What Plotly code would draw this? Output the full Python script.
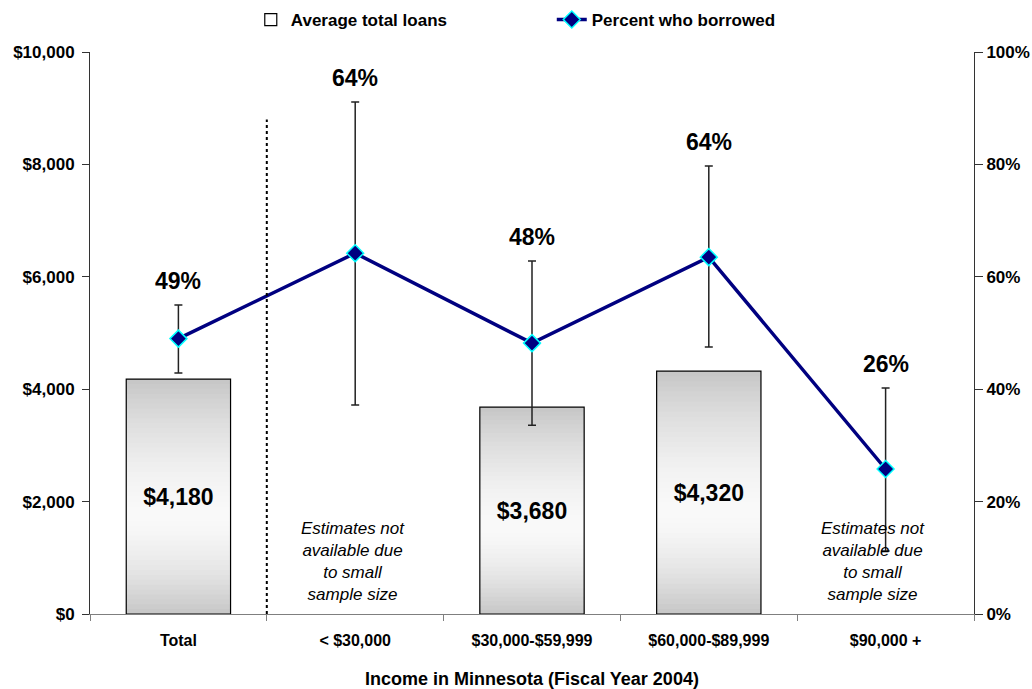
import plotly.graph_objects as go

# ---- data ----
categories = ["Total", "< $30,000", "$30,000-$59,999", "$60,000-$89,999", "$90,000 +"]
avg_loans = [4180, None, 3680, 4320, None]
pct_borrowed = [0.49, 0.642, 0.482, 0.635, 0.258]
pct_upper = [0.55, 0.911, 0.628, 0.797, 0.402]
pct_lower = [0.429, 0.372, 0.336, 0.475, 0.112]
pct_labels = ["49%", "64%", "48%", "64%", "26%"]
na_note = "Estimates not<br>available due<br>to small<br>sample size"
na_categories = ["< $30,000", "$90,000 +"]

FONT = "Arial, 'Liberation Sans', sans-serif"
BAR_W = 0.59

fig = go.Figure()

# gradient fill for bars: nested bars from full height down
N = 48
def shade(f):
    peak = 0.42
    if f <= peak:
        t = (peak - f) / peak
    else:
        t = (f - peak) / (1 - peak)
    L = 249 - 51 * (t ** 1.6)
    L = int(round(L))
    return f"rgb({L},{L},{L})"

for k in range(N, 0, -1):
    frac = k / N
    fig.add_trace(go.Bar(
        x=categories,
        y=[v * frac if v is not None else None for v in avg_loans],
        width=BAR_W,
        marker=dict(color=shade((k - 0.5) / N), line=dict(width=0)),
        showlegend=False, hoverinfo="skip", yaxis="y",
    ))

# outline + labels
fig.add_trace(go.Bar(
    x=categories, y=avg_loans, width=BAR_W, name="Average total loans",
    marker=dict(color="rgba(235,235,235,0)", line=dict(color="black", width=1.2)),
    text=[f"${v:,.0f}" if v is not None else "" for v in avg_loans],
    textposition="inside", insidetextanchor="middle",
    textfont=dict(size=23, color="black", family=FONT, weight="bold"),
    constraintext="none", yaxis="y",
))

# line with error bars
fig.add_trace(go.Scatter(
    x=categories, y=pct_borrowed, name="Percent who borrowed",
    mode="lines+markers", yaxis="y2",
    line=dict(color="#000080", width=3.5),
    marker=dict(symbol="diamond", size=13, color="#000080",
                line=dict(color="#00ffff", width=1.5)),
    error_y=dict(type="data", symmetric=False,
                 array=[u - p for u, p in zip(pct_upper, pct_borrowed)],
                 arrayminus=[p - l for p, l in zip(pct_borrowed, pct_lower)],
                 color="#222222", thickness=1.5, width=4),
))

annotations = []
for c, u, lab in zip(categories, pct_upper, pct_labels):
    annotations.append(dict(x=c, y=u, xref="x", yref="y2", text=lab,
                            showarrow=False, yanchor="bottom", yshift=9,
                            font=dict(size=23, family=FONT, weight="bold", color="black")))
for c in na_categories:
    annotations.append(dict(x=c, y=940, xref="x", yref="y", text=na_note,
                            showarrow=False, yanchor="middle",
                            xshift=(-13 if c == "$90,000 +" else -2),
                            font=dict(size=17, family=FONT, style="italic",
                                      weight="normal", color="black")))

fig.update_layout(
    width=1032, height=689,
    margin=dict(l=90, r=58, t=52, b=75, autoexpand=False),
    paper_bgcolor="white", plot_bgcolor="white",
    font=dict(family=FONT, size=15, color="black", weight="bold"),
    barmode="overlay",
    showlegend=True,
    legend=dict(orientation="h", xref="container", yref="container",
                x=0.243, xanchor="left", y=0.971, yanchor="middle",
                font=dict(size=17, family=FONT, weight="bold"),
                entrywidth=256, bgcolor="rgba(0,0,0,0)"),
    annotations=annotations,
    shapes=[dict(type="line", xref="x", yref="y", x0=0.5, x1=0.5, y0=0, y1=8800,
                 line=dict(color="black", width=2, dash="dot"))],
    xaxis=dict(type="category", showline=True, linecolor="#7f7f7f", linewidth=1,
               ticks="outside", ticklen=6, tickcolor="#7f7f7f", tickson="boundaries",
               showgrid=False, tickfont=dict(size=16), ticklabelstandoff=12,
               automargin=False,
               title=dict(text="Income in Minnesota (Fiscal Year 2004)",
                          font=dict(size=18), standoff=24)),
    yaxis=dict(range=[0, 10000], dtick=2000, tickprefix="$", tickformat=",d",
               showline=True, linecolor="#333333", linewidth=1, ticks="outside",
               ticklen=7, tickcolor="#333333", showgrid=False, zeroline=False,
               tickfont=dict(size=17), ticklabelstandoff=4, automargin=False),
    yaxis2=dict(range=[0, 1], dtick=0.2, tickformat=".0%", overlaying="y", side="right",
                showline=True, linecolor="#333333", linewidth=1, ticks="outside",
                ticklen=8, tickcolor="#333333", showgrid=False, zeroline=False,
                tickfont=dict(size=17), automargin=False),
)

fig.write_html("out.html", config={"displayModeBar": False},
               post_script="document.body.style.margin='0px';document.body.style.overflow='hidden';")
